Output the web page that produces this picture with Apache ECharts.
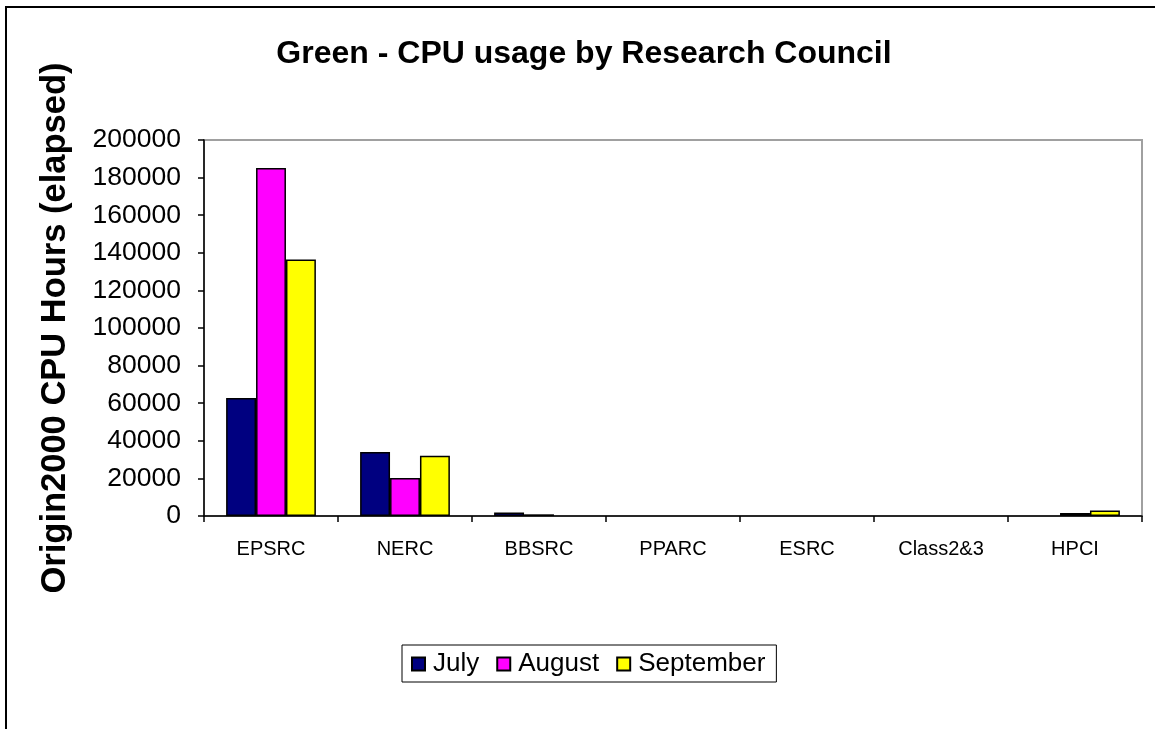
<!DOCTYPE html>
<html>
<head>
<meta charset="utf-8">
<script src="https://cdn.jsdelivr.net/npm/echarts@6/dist/echarts.min.js"></script>
<style>
  html, body { margin: 0; padding: 0; background: #fff; }
  #chart { width: 1155px; height: 729px; }
</style>
</head>
<body>
<div id="chart"></div>
<script>
// Research councils on the category axis
const councils = ['EPSRC', 'NERC', 'BBSRC', 'PPARC', 'ESRC', 'Class2&3', 'HPCI'];

// Monthly Origin2000 CPU hours (elapsed) per council
const july      = [62800, 34000, 1800, 0, 0, 0, 0];
const august    = [185100, 20200, 900, 0, 0, 0, 1600];
const september = [136400, 32100, 0, 0, 0, 0, 2900];

const monthNames = ['July', 'August', 'September'];
const monthColors = ['#000080', '#FF00FF', '#FFFF00'];

const font = '"Liberation Sans", Arial, sans-serif';

const chart = echarts.init(document.getElementById('chart'), null, { renderer: 'canvas' });

const seriesData = [july, august, september];

// zero values get no outline so they don't show up as a line on the axis
function toItems(values) {
  return values.map(v => v === 0
    ? { value: v, itemStyle: { borderWidth: 0, opacity: 0 } }
    : v);
}

chart.setOption({
  backgroundColor: '#ffffff',
  animation: false,
  title: {
    text: 'Green - CPU usage by Research Council',
    left: 579,
    textAlign: 'center',
    top: 33,
    textStyle: { fontFamily: font, fontWeight: 'bold', fontSize: 32, color: '#000' }
  },
  legend: {
    data: monthNames,
    left: 402,
    top: 645,
    orient: 'horizontal',
    padding: [6, 11, 5, 9],
    borderColor: '#000',
    borderWidth: 1,
    itemWidth: 13,
    itemHeight: 13,
    itemGap: 17,
    icon: 'rect',
    textStyle: { fontFamily: font, fontSize: 26, color: '#000', padding: [0, 0, 0, 3] }
  },
  grid: {
    left: 204,
    top: 140,
    right: 13,
    bottom: 213,
    show: true,
    borderColor: '#a0a0a0',
    borderWidth: 2,
    containLabel: false
  },
  xAxis: {
    type: 'category',
    data: councils,
    boundaryGap: true,
    axisLine: { lineStyle: { color: '#000', width: 1.5 } },
    axisTick: { show: true, inside: false, length: 6, lineStyle: { color: '#000', width: 1.5 } },
    axisLabel: { fontFamily: font, fontSize: 20, color: '#000', margin: 23, interval: 0 },
    splitLine: { show: false }
  },
  yAxis: {
    type: 'value',
    min: 0,
    max: 200000,
    interval: 20000,
    name: 'Origin2000 CPU Hours (elapsed)',
    nameLocation: 'middle',
    nameGap: 131,
    nameTextStyle: { fontFamily: font, fontWeight: 'bold', fontSize: 34.5, color: '#000' },
    axisLine: { show: true, lineStyle: { color: '#000', width: 1.5 } },
    axisTick: { show: true, inside: false, length: 6, lineStyle: { color: '#000', width: 1.5 } },
    axisLabel: {
      fontFamily: font, fontSize: 26.5, color: '#000', margin: 23,
      formatter: v => String(v)
    },
    splitLine: { show: false }
  },
  series: monthNames.map((name, i) => ({
    name: name,
    type: 'bar',
    data: toItems(seriesData[i]),
    barGap: '0%',
    barCategoryGap: '33%',
    itemStyle: { color: monthColors[i], borderColor: '#000', borderWidth: 1.5 }
  })),
  graphic: [{
    type: 'rect',
    silent: true,
    shape: { x: 6, y: 7, width: 1300, height: 900 },
    style: { fill: 'none', stroke: '#000', lineWidth: 2 }
  }]
});
</script>
</body>
</html>
